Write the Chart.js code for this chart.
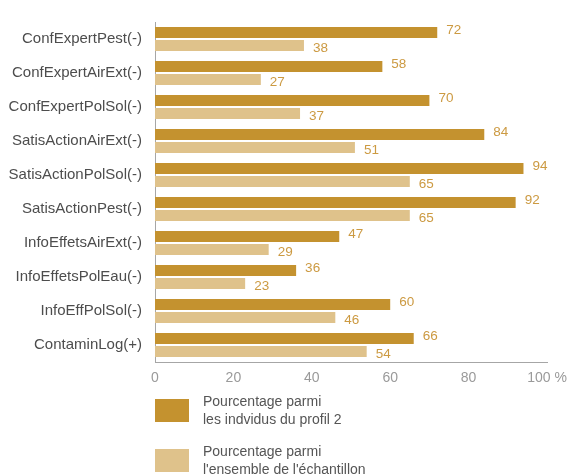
<!DOCTYPE html>
<html>
<head>
<meta charset="utf-8">
<script src="https://cdn.jsdelivr.net/npm/chart.js@4.4.0/dist/chart.umd.min.js"></script>
<style>
  html, body { margin: 0; padding: 0; background: #fff; }
  #graf { display: block; }
</style>
</head>
<body>
<canvas id="graf" width="570" height="476"></canvas>
<script>
// dados
const categorias = ['ConfExpertPest(-)', 'ConfExpertAirExt(-)', 'ConfExpertPolSol(-)', 'SatisActionAirExt(-)',
  'SatisActionPolSol(-)', 'SatisActionPest(-)', 'InfoEffetsAirExt(-)', 'InfoEffetsPolEau(-)',
  'InfoEffPolSol(-)', 'ContaminLog(+)'];
const profil2 = [72, 58, 70, 84, 94, 92, 47, 36, 60, 66];
const ensemble = [38, 27, 37, 51, 65, 65, 29, 23, 46, 54];
const legenda1 = ['Pourcentage parmi', 'les indvidus du profil 2'];
const legenda2 = ['Pourcentage parmi', "l'ensemble de l'échantillon"];
const ticksX = [0, 20, 40, 60, 80, 100];

const corEscura = '#c4922f';
const corClara = '#dfc28b';

// valores ao lado das barras
const rotulos = {
  id: 'rotulos',
  afterDatasetsDraw(chart) {
    const ctx = chart.ctx;
    ctx.save();
    ctx.font = '13.5px "Liberation Sans", Arial, sans-serif';
    ctx.fillStyle = '#cc9a42';
    ctx.textBaseline = 'middle';
    ctx.textAlign = 'left';
    chart.data.datasets.forEach((ds, i) => {
      const meta = chart.getDatasetMeta(i);
      meta.data.forEach((bar, j) => {
        const dy = i === 0 ? -2 : 3;
        ctx.fillText(ds.data[j], bar.x + 9, bar.y + dy);
      });
    });
    ctx.restore();
  }
};

// legenda desenhada embaixo
const legendaBaixo = {
  id: 'legendaBaixo',
  afterDraw(chart) {
    const ctx = chart.ctx;
    ctx.save();
    ctx.font = '14px "Liberation Sans", Arial, sans-serif';
    ctx.textBaseline = 'middle';
    ctx.textAlign = 'left';
    const itens = [
      { cor: corEscura, linhas: legenda1, y: 399, ty: 402 },
      { cor: corClara, linhas: legenda2, y: 449, ty: 452 }
    ];
    itens.forEach(it => {
      ctx.fillStyle = it.cor;
      ctx.fillRect(155, it.y, 34, 23);
      ctx.fillStyle = '#555';
      it.linhas.forEach((l, k) => ctx.fillText(l, 203, it.ty + k * 18));
    });
    ctx.restore();
  }
};

new Chart(document.getElementById('graf'), {
  type: 'bar',
  data: {
    labels: categorias,
    datasets: [
      { label: legenda1.join(' '), data: profil2, backgroundColor: corEscura,
        barPercentage: 0.86, categoryPercentage: 0.763 },
      { label: legenda2.join(' '), data: ensemble, backgroundColor: corClara,
        barPercentage: 0.86, categoryPercentage: 0.763 }
    ]
  },
  options: {
    indexAxis: 'y',
    responsive: false,
    animation: false,
    layout: { padding: { top: 22, right: 23, left: 0, bottom: 0 } },
    plugins: {
      legend: { display: false },
      tooltip: { enabled: false }
    },
    scales: {
      x: {
        min: 0,
        max: 100,
        afterFit(scale) {
          scale.height = 114;
          scale.paddingLeft = 0;
          scale.paddingRight = 0;
        },
        afterBuildTicks(scale) { scale.ticks = ticksX.map(v => ({ value: v })); },
        grid: { display: false, drawTicks: false },
        border: { display: true, color: '#a6a6a6', width: 1 },
        ticks: {
          padding: 8,
          color: '#9a9a9a',
          font: { family: '"Liberation Sans", Arial, sans-serif', size: 14 },
          callback: v => v === 100 ? '100 %' : v
        }
      },
      y: {
        afterFit(scale) { scale.width = 155; },
        grid: { display: false, drawTicks: false },
        border: { display: true, color: '#a6a6a6', width: 1 },
        ticks: {
          padding: 13,
          color: '#4d4d4d',
          font: { family: '"Liberation Sans", Arial, sans-serif', size: 15 }
        }
      }
    }
  },
  plugins: [rotulos, legendaBaixo]
});
</script>
</body>
</html>
